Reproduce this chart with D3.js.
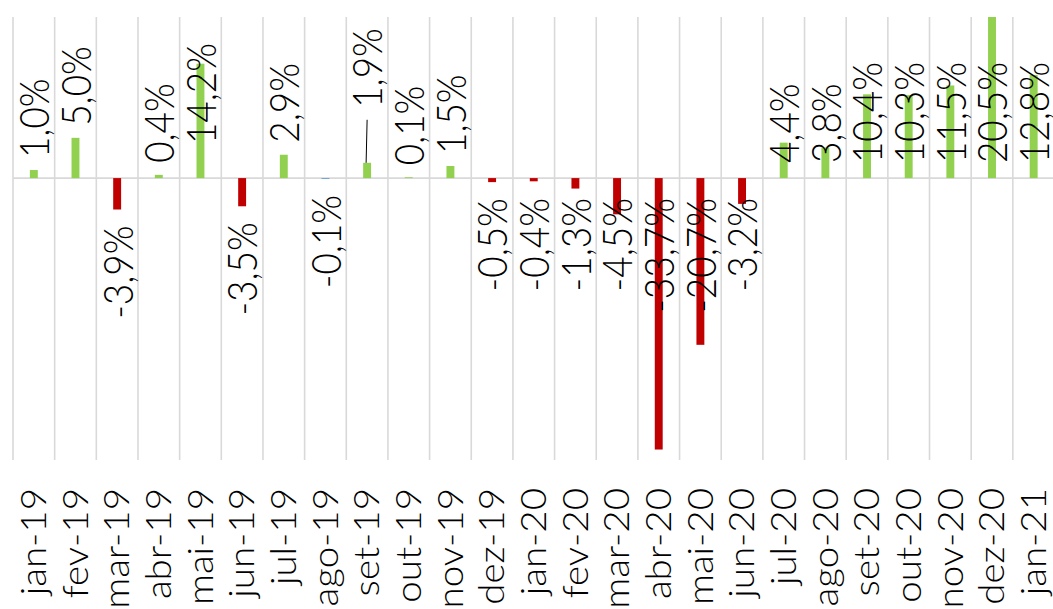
<!DOCTYPE html>
<html>
<head>
<meta charset="utf-8">
<script src="https://cdn.jsdelivr.net/npm/d3@7"></script>
<style>
  body { margin: 0; background: #fff; }
  text { font-family: 'Century Gothic', Lato, sans-serif; font-weight: 300; fill: #000; }
</style>
</head>
<body>
<svg id="d" width="1053" height="609"></svg>
<script>
(function (d3) {
  'use strict';

  const categories = ['jan-19', 'fev-19', 'mar-19', 'abr-19', 'mai-19', 'jun-19', 'jul-19',
    'ago-19', 'set-19', 'out-19', 'nov-19', 'dez-19', 'jan-20', 'fev-20', 'mar-20', 'abr-20',
    'mai-20', 'jun-20', 'jul-20', 'ago-20', 'set-20', 'out-20', 'nov-20', 'dez-20', 'jan-21'];
  const values = [1.0, 5.0, -3.9, 0.4, 14.2, -3.5, 2.9, -0.1, 1.9, 0.1, 1.5, -0.5,
    -0.4, -1.3, -4.5, -33.7, -20.7, -3.2, 4.4, 3.8, 10.4, 10.3, 11.5, 20.5, 12.8];
  const yDomain = [-35, 20];

  const data = categories.map((c, i) => ({ cat: c, value: values[i] }));

  const svg = d3.select('#d');

  const render = data => {
    const left = 13;
    const step = 41.66;
    const top = 17;
    const bottom = 460;

    const cellScale = d3.scaleBand()
      .domain(categories)
      .range([left, left + step * categories.length]);

    const xScale = d3.scaleBand()
      .domain(categories)
      .range(cellScale.range())
      .paddingInner(0.81)
      .paddingOuter(0.405);

    const yScale = d3.scaleLinear()
      .domain(yDomain)
      .range([bottom, top]);

    const y0 = yScale(0);

    const pt = d3.formatLocale({
      decimal: ',', thousands: '.', grouping: [3], currency: ['R$', ''], minus: '-'
    }).format('.1f');
    const labelText = v => pt(v) + '%';

    // vertical category gridlines
    svg.append('g')
      .selectAll('line')
      .data(categories.concat(['end']))
      .enter().append('line')
        .attr('x1', d => d === 'end' ? cellScale.range()[1] : cellScale(d))
        .attr('x2', d => d === 'end' ? cellScale.range()[1] : cellScale(d))
        .attr('y1', top)
        .attr('y2', bottom)
        .attr('stroke', '#d9d9d9')
        .attr('stroke-width', 1.6);

    svg.append('line')
      .attr('x1', left)
      .attr('x2', cellScale.range()[1])
      .attr('y1', y0)
      .attr('y2', y0)
      .attr('stroke', '#d9d9d9')
      .attr('stroke-width', 1.6);

    svg.append('clipPath').attr('id', 'plot')
      .append('rect')
        .attr('x', left)
        .attr('y', top)
        .attr('width', step * categories.length)
        .attr('height', bottom - top);

    const colorOverride = { 'ago-19': '#5b9bd5' };
    const barColor = d => colorOverride[d.cat] || (d.value >= 0 ? '#92d050' : '#c00000');

    svg.append('g')
      .attr('clip-path', 'url(#plot)')
      .selectAll('rect').data(data)
      .enter().append('rect')
        .attr('x', d => xScale(d.cat))
        .attr('y', d => yScale(Math.max(0, d.value)))
        .attr('width', xScale.bandwidth())
        .attr('height', d => Math.abs(yScale(d.value) - y0))
        .attr('fill', barColor);

    // data labels, rotated
    const nudge = { 'set-19': -43 };
    const squeeze = 0.9;
    const cx = d => xScale(d.cat) + xScale.bandwidth() / 2;

    const labels = svg.append('g')
      .selectAll('text').data(data)
      .enter().append('text')
        .attr('font-size', 41)
        .attr('dy', '0.35em')
        .attr('text-anchor', d => d.value >= 0 ? 'start' : 'end')
        .text(d => labelText(d.value));

    labels.each(function (d, i) {
      const len = this.getComputedTextLength() * squeeze;
      const lateBase = i >= 12;
      let yPos;
      if (d.value >= 0) {
        yPos = lateBase ? y0 - 15 : Math.max(yScale(d.value) - 12, 43 + len);
      } else {
        yPos = lateBase ? y0 + 20 : yScale(d.value) + 16;
      }
      if (nudge[d.cat]) {
        yPos += nudge[d.cat];
        svg.append('line')
          .attr('x1', cx(d) - 1)
          .attr('x2', cx(d))
          .attr('y1', yScale(d.value))
          .attr('y2', yPos + 12)
          .attr('stroke', '#000')
          .attr('stroke-width', 1);
      }
      d3.select(this)
        .attr('transform', `translate(${cx(d) + 1},${yPos}) rotate(-90) scale(${squeeze},1)`);
    });

    // category labels
    svg.append('g')
      .selectAll('text').data(categories)
      .enter().append('text')
        .attr('font-size', 35)
        .attr('dy', '0.35em')
        .attr('text-anchor', 'end')
        .attr('transform', d => `translate(${cellScale(d) + cellScale.bandwidth() / 2},${488}) rotate(-90) scale(1.1,1)`)
        .text(d => d);
  };

  render(data);

}(d3));
</script>
</body>
</html>
